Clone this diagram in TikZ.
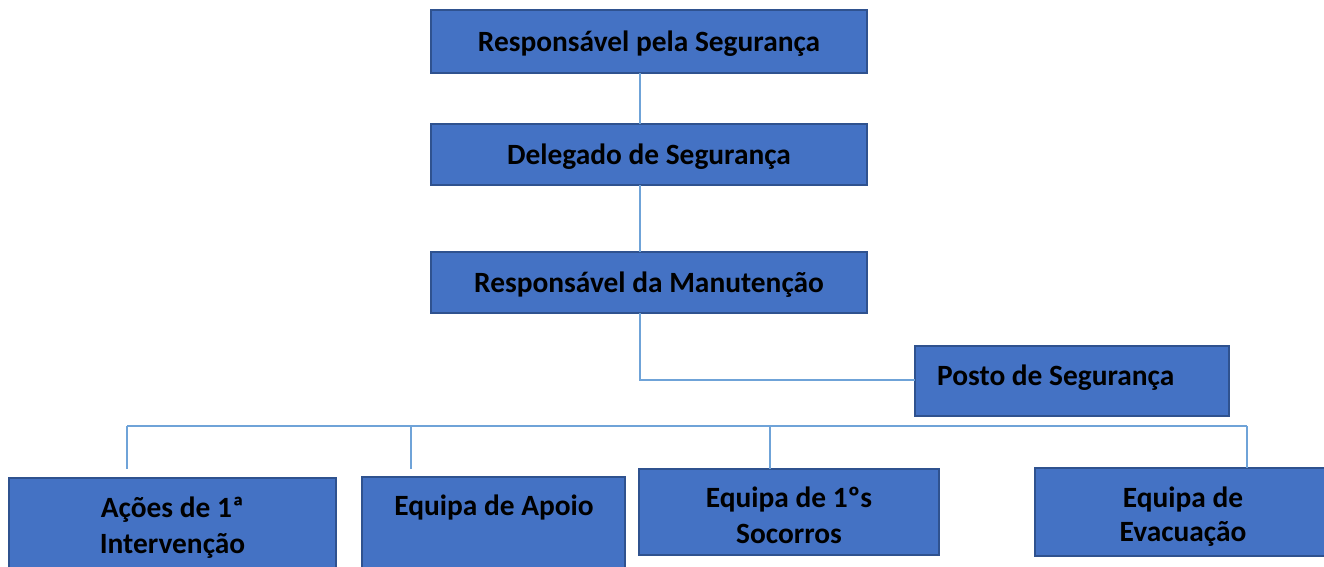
\documentclass[tikz,border=0pt]{standalone}
\usepackage{fontspec}
\setmainfont{Carlito}
\definecolor{boxfill}{HTML}{4472C4}
\definecolor{boxline}{HTML}{2F528F}
\definecolor{conn}{HTML}{6FA3D8}
\begin{document}
\begin{tikzpicture}[x=1pt,y=-1pt,
  box/.style={draw=boxline,fill=boxfill,line width=1.6pt,inner sep=0pt},
  lbl/.style={font=\fontsize{29.4}{36}\selectfont\bfseries,text=black,inner sep=0pt,align=center},
  conline/.style={draw=conn,line width=1.4pt}]
\useasboundingbox (0,0) rectangle (1324,566);
% boxes
\path[box] (431,10) rectangle (867,73) node[pos=0.5,inner sep=0pt] (b1) {};
\path[box] (431,124) rectangle (867,185) node[pos=0.5,inner sep=0pt] (b2) {};
\path[box] (431,252) rectangle (867,313) node[pos=0.5,inner sep=0pt] (b3) {};
\path[box] (915,346) rectangle (1229,416) node[pos=0.5,inner sep=0pt] (b4) {};
\path[box] (9,478) rectangle (336,590) node[pos=0.5,inner sep=0pt] (b5) {};
\path[box] (362,477) rectangle (625,590) node[pos=0.5,inner sep=0pt] (b6) {};
\path[box] (639,469) rectangle (939,555) node[pos=0.5,inner sep=0pt] (b7) {};
\path[box] (1035,468) rectangle (1335,556) node[pos=0.5,inner sep=0pt] (b8) {};
% labels
\node[lbl,anchor=base] (t1) at (649,51) {Responsável pela Segurança};
\node[lbl,anchor=base] (t2) at (649,164) {Delegado de Segurança};
\node[lbl,anchor=base] (t3) at (649,292) {Responsável da Manutenção};
\node[lbl,anchor=base west] (t4) at (937,385) {Posto de Segurança};
\node[lbl,anchor=base] (t5a) at (172.5,517) {Ações de 1ª};
\node[lbl,anchor=base] (t5b) at (172.5,553) {Intervenção};
\node[lbl,anchor=base] (t6) at (494,515) {Equipa de Apoio};
\node[lbl,anchor=base] (t7a) at (789,507) {Equipa de 1ºs};
\node[lbl,anchor=base] (t7b) at (789,543) {Socorros};
\node[lbl,anchor=base] (t8a) at (1183,507) {Equipa de};
\node[lbl,anchor=base] (t8b) at (1183,541) {Evacuação};
% connector points
\coordinate (c1b) at (640,73);
\coordinate (c2t) at (640,124);
\coordinate (c2b) at (640,185);
\coordinate (c3t) at (640,252);
\coordinate (c3b) at (640,313);
\coordinate (elbow) at (640,380);
\coordinate (c4w) at (915,380);
\coordinate (busL) at (127,426);
\coordinate (busR) at (1247,426);
\coordinate (d5t) at (127,426);
\coordinate (d5b) at (127,469);
\coordinate (d6t) at (411,426);
\coordinate (d6b) at (411,469);
\coordinate (d7t) at (770,426);
\coordinate (d7b) at (770,469);
\coordinate (d8t) at (1247,426);
\coordinate (d8b) at (1247,468);
% connectors
\draw[conline] (c1b) -- (c2t);
\draw[conline] (c2b) -- (c3t);
\draw[conline] (c3b) -- (elbow) -- (c4w);
\draw[conline] (busL) -- (busR);
\draw[conline] (d5t) -- (d5b);
\draw[conline] (d6t) -- (d6b);
\draw[conline] (d7t) -- (d7b);
\draw[conline] (d8t) -- (d8b);
\end{tikzpicture}
\end{document}
